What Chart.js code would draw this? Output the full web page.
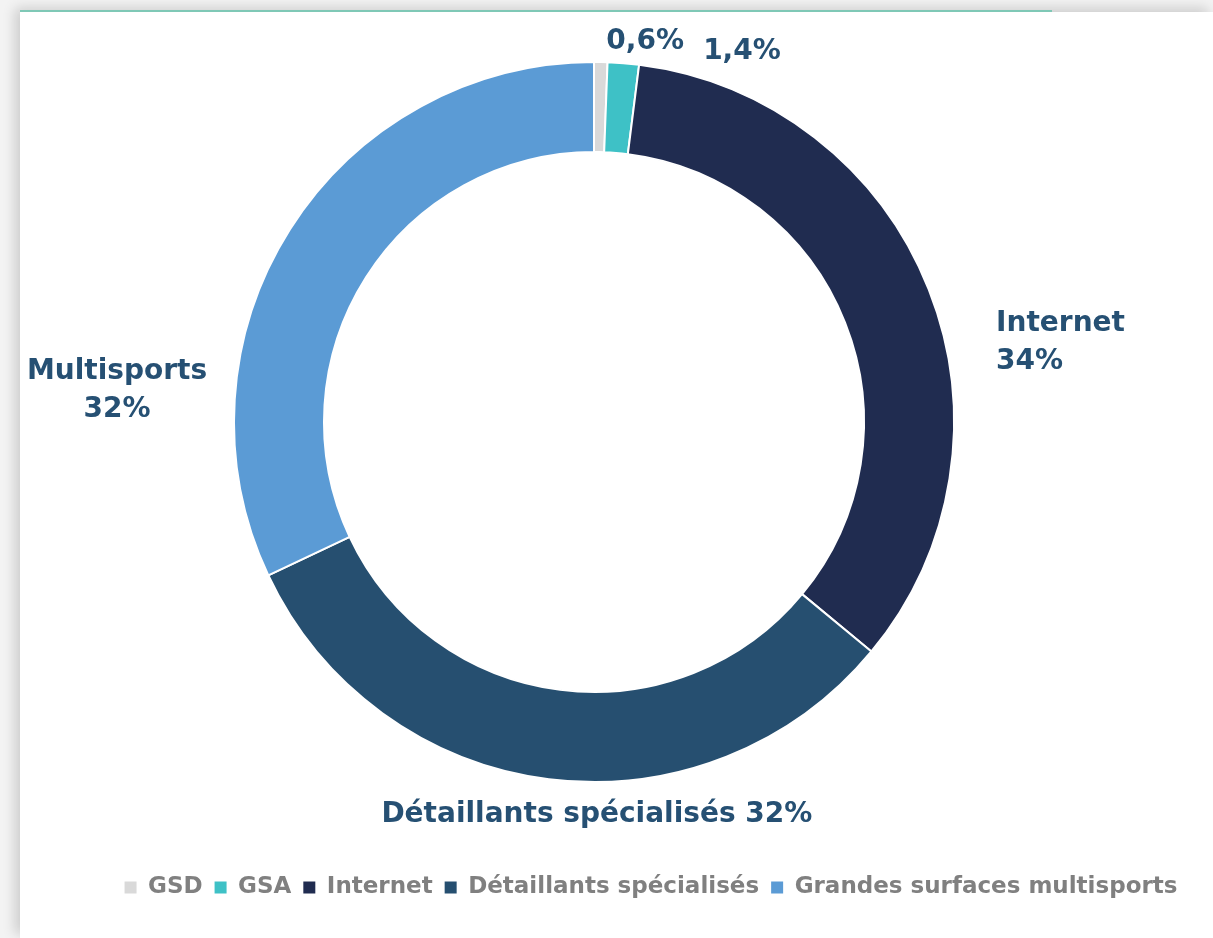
<!DOCTYPE html>
<html lang="fr">
<head>
<meta charset="utf-8">
<script src="https://cdn.jsdelivr.net/npm/chart.js@4.4.1/dist/chart.umd.min.js"></script>
<style>
  html, body { margin: 0; padding: 0; }
  body { width: 1213px; height: 938px; position: relative; overflow: hidden; background: #f3f3f3; }
  .carte { position: absolute; left: 20px; top: 12px; right: 0; bottom: 0; background: #fff; box-shadow: -5px -4px 12px rgba(0,0,0,0.16); }
  .liseret { position: absolute; left: 20px; top: 10px; width: 1032px; height: 2px; background: #7fc8b6; }
  #zone { position: absolute; left: 0; top: 0; width: 1213px; height: 938px; }
</style>
</head>
<body>
<div class="carte"></div>
<div class="liseret"></div>
<div id="zone"><canvas id="graphique" width="1213" height="938"></canvas></div>
<script>
// Données
const categories = ['GSD', 'GSA', 'Internet', 'Détaillants spécialisés', 'Grandes surfaces multisports'];
const parts = [0.6, 1.4, 34, 32, 32];
const etiquettes = ['', '', 'Internet', 'Détaillants spécialisés', 'Multisports'];
const couleurs = ['#d9d9d9', '#3ec1c6', '#202c50', '#264f70', '#5b9bd5'];

// Placement des étiquettes (en fraction du rayon extérieur, depuis le centre)
const posEtiquettes = [
  { dx: 0.142, dy: -1.056, align: 'center' },
  { dx: 0.411, dy: -1.028, align: 'center' },
  { dx: 1.117, dy: -0.272, align: 'left', deuxLignes: true },
  { dx: 0.008, dy: 1.092, align: 'center' },
  { dx: -1.325, dy: -0.139, align: 'center', deuxLignes: true }
];

const police = '"DejaVu Sans", sans-serif';

function formatPct(v) {
  return String(v).replace('.', ',') + '%';
}

// Étiquettes de données dessinées à la main (pas de plugin datalabels)
const etiquettesPlugin = {
  id: 'etiquettes',
  afterDatasetsDraw(chart) {
    const ctx = chart.ctx;
    const arcs = chart.getDatasetMeta(0).data;
    ctx.save();
    ctx.font = '700 28px ' + police;
    ctx.fillStyle = '#265073';
    ctx.textBaseline = 'middle';
    arcs.forEach((arc, i) => {
      const p = posEtiquettes[i];
      const x = arc.x + p.dx * arc.outerRadius;
      const y = arc.y + p.dy * arc.outerRadius;
      const valeur = formatPct(parts[i]);
      ctx.textAlign = p.align;
      if (p.deuxLignes) {
        ctx.fillText(etiquettes[i], x, y);
        ctx.fillText(valeur, x, y + 38);
      } else {
        ctx.fillText((etiquettes[i] ? etiquettes[i] + ' ' : '') + valeur, x, y);
      }
    });
    ctx.restore();
  }
};

// La légende est décalée vers la droite par rapport à l'anneau
const decalageLegende = {
  id: 'decalageLegende',
  afterLayout(chart) {
    chart.legend.left += 57;
    chart.legend.right += 57;
  }
};

new Chart(document.getElementById('graphique'), {
  type: 'doughnut',
  data: {
    labels: categories,
    datasets: [{
      data: parts,
      backgroundColor: couleurs,
      borderColor: '#ffffff',
      borderWidth: 2,
      radius: 360,
      cutout: '75%'
    }]
  },
  options: {
    responsive: false,
    animation: false,
    events: [],
    layout: { padding: { top: 0, left: 0, right: 25, bottom: 29 } },
    plugins: {
      tooltip: { enabled: false },
      legend: {
        position: 'bottom',
        align: 'center',
        title: { display: true, text: '', padding: 4, font: { size: 10 } },
        labels: {
          color: '#808080',
          font: { family: police, size: 23, weight: '700' },
          boxWidth: 12,
          boxHeight: 12,
          padding: 12,
          generateLabels: chart => Chart.overrides.doughnut.plugins.legend.labels
            .generateLabels(chart).map(l => ({ ...l, lineWidth: 0 }))
        }
      }
    }
  },
  plugins: [etiquettesPlugin, decalageLegende]
});
</script>
</body>
</html>
